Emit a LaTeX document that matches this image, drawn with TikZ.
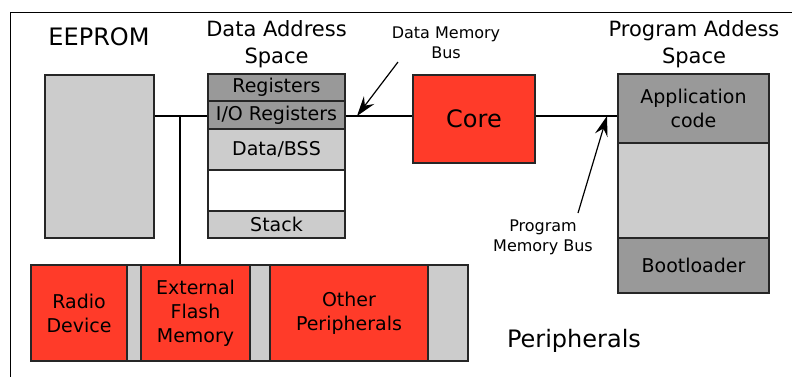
\documentclass[tikz,border=0pt]{standalone}
\usepackage{fontspec}
\setmainfont{DejaVu Sans}
\usetikzlibrary{arrows.meta}
\usetikzlibrary{calc}
\definecolor{corered}{RGB}{255,59,41}
\definecolor{memdark}{RGB}{153,153,153}
\definecolor{memlight}{RGB}{204,204,204}

\begin{document}
\begin{tikzpicture}[x=1pt,y=-1pt,
  blk/.style={draw=black!85,line width=1.3pt,inner sep=0pt,align=center,font=\fontsize{19}{24}\selectfont},
  dk/.style={blk,fill=memdark},
  lt/.style={blk,fill=memlight},
  rd/.style={blk,fill=corered},
  bus/.style={line width=2.5pt},
  thinbus/.style={line width=1.2pt},
  head/.style={align=center,font=\fontsize{21}{27}\selectfont},
  small/.style={align=center,font=\fontsize{16}{20}\selectfont},
  big/.style={font=\fontsize{24}{28}\selectfont},
  pointer/.style={line width=1.2pt,-{Stealth[length=20pt,width=13pt,inset=7pt]}}]
\useasboundingbox (0,0) rectangle (792,376);
\clip (0,0) rectangle (792,376);
\draw[line width=1.5pt] (10.5,390) -- (10.5,12.7) -- (800,12.7);

\node[big] (eeplabel) at (99,36.5) {EEPROM};
\node[lt,minimum width=109pt,minimum height=163pt] (eeprom) at (99.5,156.5) {};

\node[head] (dlabel) at (276.5,44.7) {Data Address\\Space};
\node[dk,minimum width=137pt,minimum height=27pt] (reg) at (276.5,87.5) {Registers};
\node[dk,minimum width=137pt,minimum height=28pt] (io) at (276.5,115) {I/O Registers};
\node[lt,minimum width=137pt,minimum height=41pt] (bss) at (276.5,149.5) {Data/BSS};
\node[blk,fill=white,minimum width=137pt,minimum height=41pt] (free) at (276.5,190.5) {};
\node[lt,minimum width=137pt,minimum height=27pt] (stack) at (276.5,224.5) {Stack};

\node[rd,minimum width=122pt,minimum height=88pt,font=\fontsize{24}{28}\selectfont] (core) at (474,119) {Core};

\node[head] (plabel) at (694,44.7) {Program Addess\\Space};
\node[dk,minimum width=151pt,minimum height=69pt] (app) at (693.5,108.5) {Application\\code};
\node[lt,minimum width=151pt,minimum height=95pt] (pfree) at (693.5,190.5) {};
\node[dk,minimum width=151pt,minimum height=55pt] (boot) at (693.5,265.5) {Bootloader};

\node[rd,minimum width=96pt,minimum height=96pt] (radio) at (79,313) {Radio\\Device};
\node[lt,minimum width=14pt,minimum height=96pt] (gapa) at (134,313) {};
\node[rd,minimum width=109pt,minimum height=96pt] (flash) at (195.5,313) {External\\Flash\\Memory};
\node[lt,minimum width=20pt,minimum height=96pt] (gapb) at (260,313) {};
\node[rd,minimum width=158pt,minimum height=96pt] (other) at (349,313) {Other\\Peripherals};
\node[lt,minimum width=40pt,minimum height=96pt] (gapc) at (448,313) {};
\node[big] (perlabel) at (574,341) {Peripherals};

\node[small] (dmb) at (446,43.2) {Data Memory\\Bus};
\node[small] (pmb) at (543,237) {Program\\Memory Bus};

\coordinate (tap) at (180,116);
\draw[bus] (eeprom.east |- tap) -- (io.west |- tap);
\draw[bus] (tap) -- (tap |- flash.north);
\draw[thinbus] (io.east |- tap) -- (core.west |- tap);
\draw[thinbus] (core.east |- tap) -- (app.west |- tap);

\coordinate (dtail) at (398,62);
\coordinate (dtip) at (357,116);
\draw[pointer] (dtail) -- (dtip);
\coordinate (ptail) at (578,213);
\coordinate (ptip) at (607,116);
\draw[pointer] (ptail) -- (ptip);
\end{tikzpicture}
\end{document}
